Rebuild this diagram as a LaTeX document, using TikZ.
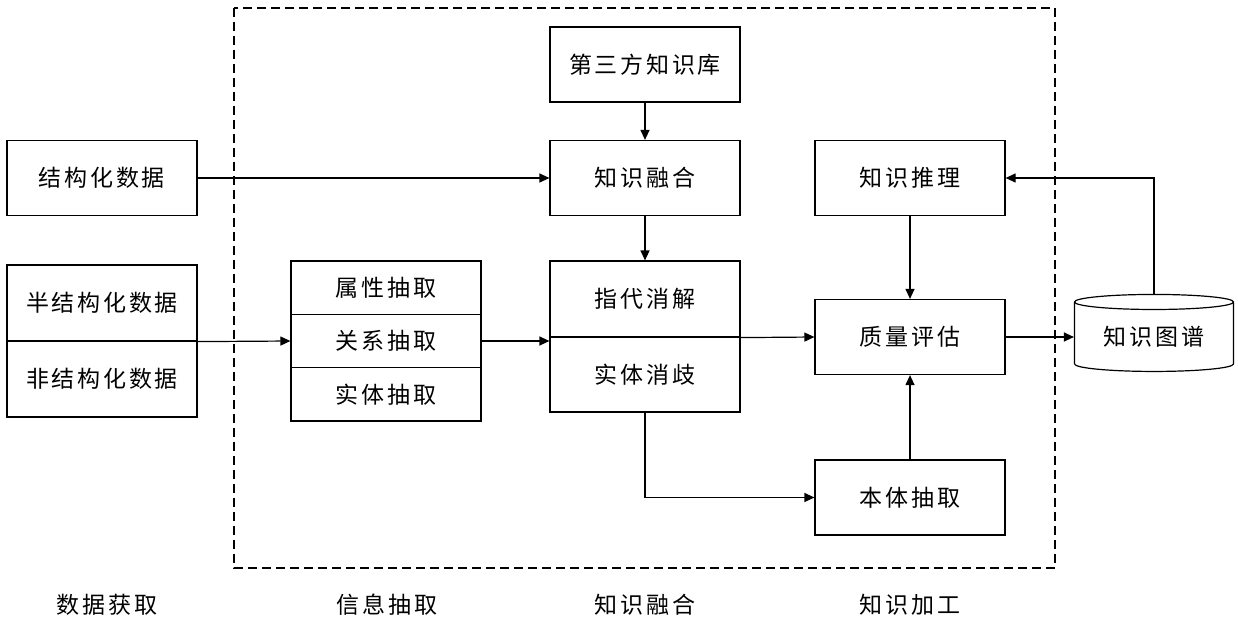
\documentclass[tikz,border=0pt]{standalone}
\usepackage{fontspec}
\setmainfont[LetterSpace=12]{Noto Sans CJK SC}
\usetikzlibrary{arrows.meta,shapes.geometric}
\begin{document}
\begin{tikzpicture}[x=1pt, y=-1pt,
  font=\fontsize{23}{26}\selectfont,
  box/.style={draw, line width=1.2pt, minimum width=190pt, minimum height=75pt, inner sep=0pt},
  part/.style={draw, line width=1.2pt, minimum width=190pt, minimum height=#1, inner sep=0pt},
  flow/.style={line width=1.2pt, -{Triangle[length=10pt,width=9pt]}}]
  \useasboundingbox (0,0) rectangle (1238,623);
  \draw[line width=1.2pt, dash pattern=on 9pt off 5pt] (234,8) rectangle (1055,568);
  % data sources
  \node[box] (sd) at (102,178) {结构化数据};
  \node[part=76pt] (semi) at (102,303) {半结构化数据};
  \node[part=76pt] (unst) at (102,379) {非结构化数据};
  % extraction
  \node[part=53.3pt] (attr) at (386,287.7) {属性抽取};
  \node[part=53.3pt] (rel) at (386,341) {关系抽取};
  \node[part=53.3pt] (ent) at (386,394.3) {实体抽取};
  % fusion
  \node[box] (kb) at (645,64.5) {第三方知识库};
  \node[box] (fus) at (645,178) {知识融合};
  \node[part=76pt] (coref) at (645,299) {指代消解};
  \node[part=75pt] (dis) at (645,374.5) {实体消歧};
  % processing
  \node[box] (inf) at (910,178) {知识推理};
  \node[box] (qa) at (910,337) {质量评估};
  \node[box] (onto) at (910,497.5) {本体抽取};
  \node[draw, line width=1.2pt, shape=cylinder, shape border rotate=90, aspect=0.15,
    minimum width=159pt, minimum height=77pt, inner sep=0pt] (kg) at (1154,337) {知识图谱};
  % stage labels
  \node (l1) at (107,605) {数据获取};
  \node (l2) at (387,605) {信息抽取};
  \node (l3) at (645,605) {知识融合};
  \node (l4) at (910,605) {知识加工};
  \draw[flow] (sd) -- (fus);
  \draw[flow] (kb) -- (fus);
  \draw[flow] (fus) -- (coref);
  \draw[flow] (semi.south east) -- (rel.west);
  \draw[flow] (rel.east) -- (rel.east -| coref.west);
  \draw[flow] (coref.south east) -- (qa.west);
  \draw[flow] (inf) -- (qa);
  \draw[flow] (onto) -- (qa);
  \draw[flow] (dis.south) |- (onto.west);
  \draw[flow] (qa) -- (kg);
  \draw[flow] (kg.north) |- (inf.east);
\end{tikzpicture}
\end{document}
